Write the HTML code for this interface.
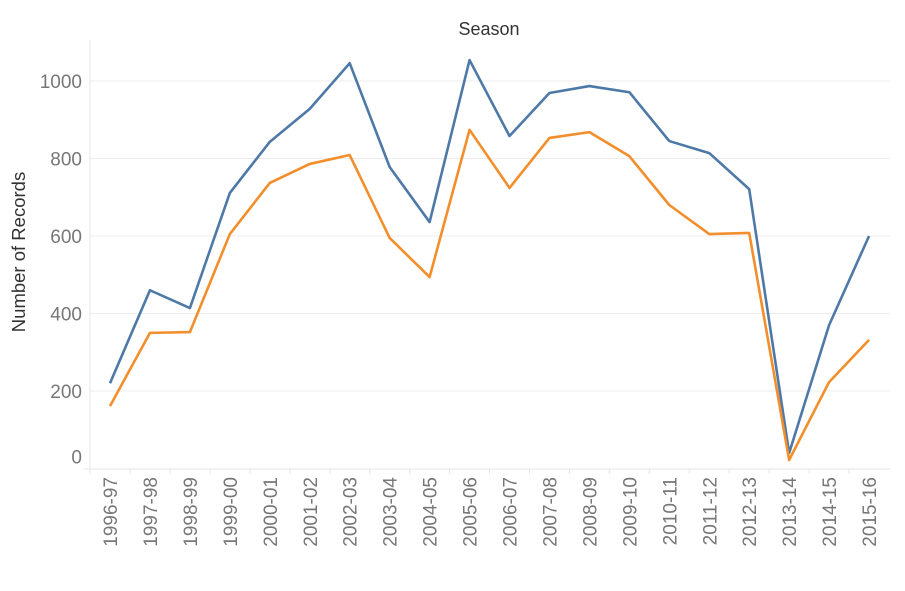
<!DOCTYPE html>
<html><head><meta charset="utf-8"><style>
body{margin:0;background:#fff;}
svg{font-family:"Liberation Sans",sans-serif;display:block}
</style></head><body>
<svg id="chart" width="905" height="591">
<text x="489" y="35" text-anchor="middle" font-size="18" fill="#333">Season</text>
<text transform="translate(25,252) rotate(-90)" text-anchor="middle" font-size="18.5" fill="#333">Number of Records</text>
<g id="grid"></g><g id="axes"></g><g id="series"></g>
</svg>
<script>
const categories=["1996-97","1997-98","1998-99","1999-00","2000-01","2001-02","2002-03","2003-04","2004-05","2005-06","2006-07","2007-08","2008-09","2009-10","2010-11","2011-12","2012-13","2013-14","2014-15","2015-16"];
const seriesBlue=[220,460,414,711,843,928,1046,778,636,1054,858,969,987,971,845,814,721,40,370,600];
const seriesOrange=[161,350,352,605,737,786,809,595,494,874,724,853,868,806,680,605,608,22,223,332];
const yTicks=[0,200,400,600,800,1000];
const NS="http://www.w3.org/2000/svg";
const x0=110,step=39.95,yZero=468.5,yScale=0.3875;
const X=i=>x0+i*step, Y=v=>yZero-v*yScale;
function mk(tag,attrs,parent){const e=document.createElementNS(NS,tag);for(const k in attrs)e.setAttribute(k,attrs[k]);parent.appendChild(e);return e;}
const grid=document.getElementById('grid'),axes=document.getElementById('axes'),ser=document.getElementById('series');
yTicks.forEach(t=>{
  if(t>0){const l=mk('line',{x1:90,x2:890,y1:Y(t),y2:Y(t),stroke:'#ececec','stroke-width':1},grid);
  
  }
  const tx=mk('text',{x:82,y:t===0?Y(t)-5:Y(t)+7,'text-anchor':'end','font-size':19,fill:'#777'},axes);
  tx.textContent=t;
  
  
});
const va=mk('line',{x1:90,x2:90,y1:40,y2:469,stroke:'#e6e6e6'},axes);


const ha=mk('line',{x1:84,x2:890,y1:469,y2:469,stroke:'#e6e6e6'},axes);


categories.forEach((c,i)=>{
  const tk=mk('line',{x1:X(i)-step/2,x2:X(i)-step/2,y1:469,y2:474,stroke:'#e6e6e6'},axes);
  
  
  const tx=mk('text',{transform:`translate(${X(i)+7},477) rotate(-90)`,'text-anchor':'end','font-size':19,fill:'#777'},axes);
  tx.textContent=c;
  
  
});
function line(vals,color,name){
  const p=mk('polyline',{points:vals.map((v,i)=>X(i)+','+Y(v)).join(' '),fill:'none',stroke:color,'stroke-width':2.6,'stroke-linejoin':'round'},ser);
  
  
}
line(seriesBlue,'#4e79a7','series-blue-line');
line(seriesOrange,'#f28e2b','series-orange-line');
</script>
</body></html>
